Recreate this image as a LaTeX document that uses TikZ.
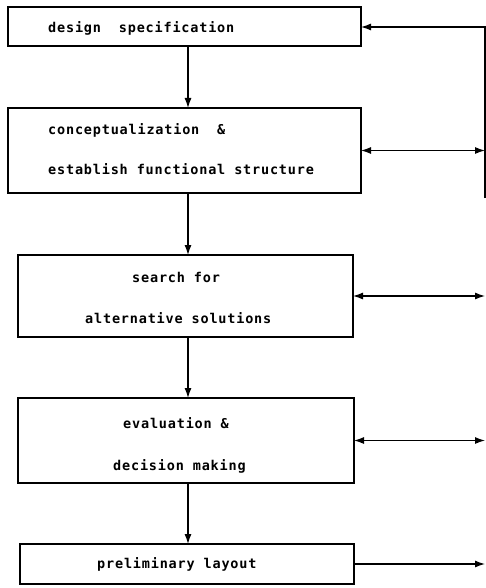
\documentclass[tikz,border=0pt]{standalone}
\usepackage{fontspec}
\newfontfamily\plotfont{DejaVu Sans Mono}[LetterSpace=6]
\usetikzlibrary{arrows.meta}
\tikzset{
  box/.style={draw=black, line width=1.6pt, rectangle, inner sep=0pt, outer sep=0pt, anchor=north west},
  lbl/.style={anchor=base west, inner sep=0pt, font=\plotfont\bfseries\fontsize{13.5}{16}\selectfont},
  conn/.style={draw=black, line width=1.2pt},
  >={Latex[length=10pt,width=7pt]}
}
\begin{document}
\begin{tikzpicture}[x=1pt,y=-1pt]
\useasboundingbox (0,0) rectangle (486,588);
% boxes
\node[box, minimum width=353pt, minimum height=39pt] (b1) at (8,7) {};
\node[box, minimum width=353pt, minimum height=85pt] (b2) at (8,108) {};
\node[box, minimum width=335pt, minimum height=82pt] (b3) at (18,255) {};
\node[box, minimum width=336pt, minimum height=85pt] (b4) at (18,398) {};
\node[box, minimum width=334pt, minimum height=40pt] (b5) at (20,544) {};
% texts
\node[lbl] (t1) at (48,33) {design~~specification};
\node[lbl] (t2a) at (48,135) {conceptualization~~\&};
\node[lbl] (t2b) at (48,175) {establish functional structure};
\node[lbl] (t3a) at (132,282) {search for};
\node[lbl] (t3b) at (85,323) {alternative solutions};
\node[lbl] (t4a) at (123,428) {evaluation \&};
\node[lbl] (t4b) at (113,470) {decision making};
\node[lbl] (t5) at (97,568) {preliminary layout};
% helper coordinates
\coordinate (vx) at (188,0);
\coordinate (rx) at (485,27);
\coordinate (rb) at (485,198);
\coordinate (ra) at (485,0);
% vertical flow
\draw[conn, ->] (b1.south -| vx) -- (b2.north -| vx);
\draw[conn, ->] (b2.south -| vx) -- (b3.north -| vx);
\draw[conn, ->] (b3.south -| vx) -- (b4.north -| vx);
\draw[conn, ->] (b4.south -| vx) -- (b5.north -| vx);
% feedback
\draw[conn, ->] (rb) -- (rx) -- (b1.east |- rx);
\draw[conn, <->] (b2.east) -- (b2.east -| ra);
\draw[conn, <->] (b3.east) -- (b3.east -| ra);
\draw[conn, <->] (b4.east) -- (b4.east -| ra);
\draw[conn, ->] (b5.east) -- (b5.east -| ra);
\end{tikzpicture}
\end{document}
